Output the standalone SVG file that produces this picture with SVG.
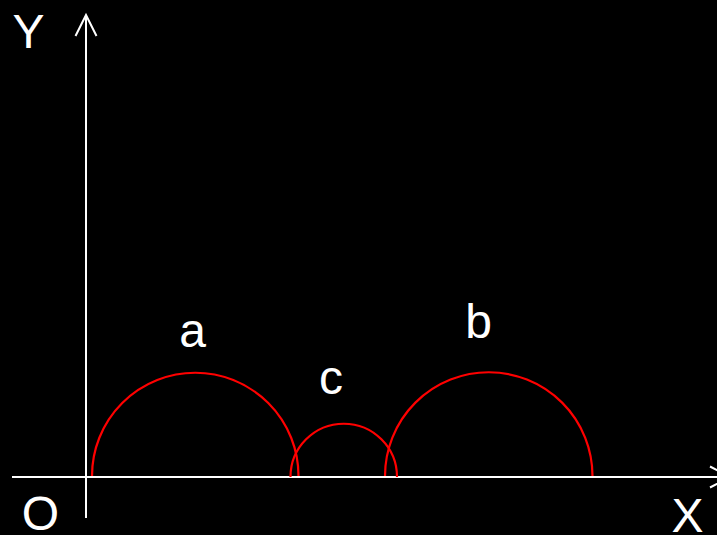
<svg xmlns="http://www.w3.org/2000/svg" width="717" height="535" viewBox="0 0 717 535">
<style>
.ax{stroke:#ffffff;stroke-width:2;fill:none}
.arc{stroke:#ff0000;stroke-width:2.2;fill:none}
.lbl{font-family:"Liberation Sans",Arial,sans-serif;font-size:48px;fill:#ffffff;text-anchor:middle}
</style>
<rect width="717" height="535" fill="#000000"/>
<g id="axes">
<line class="ax" x1="12" y1="477" x2="730" y2="477"/>
<polyline class="ax" points="710,466.5 730,477 710,487.5"/>
<line class="ax" x1="86" y1="518" x2="86" y2="15"/>
<polyline class="ax" points="75.5,36 86,15 96.5,36"/>
<text class="lbl" x="28.5" y="48">Y</text>
<text class="lbl" x="40.5" y="530">O</text>
<text class="lbl" x="687.5" y="532">X</text>
</g>
<g id="a">
<path class="arc" d="M92,476 A103.25,103.25 0 0 1 298.5,476"/>
<text class="lbl" x="192.5" y="347">a</text>
</g>
<g id="c">
<path class="arc" d="M290.5,477 A53.25,53.25 0 0 1 397,477"/>
<text class="lbl" x="331" y="394">c</text>
</g>
<g id="b">
<path class="arc" d="M385,476 A103.75,103.75 0 0 1 592.5,476"/>
<text class="lbl" x="478.5" y="338">b</text>
</g>
</svg>
